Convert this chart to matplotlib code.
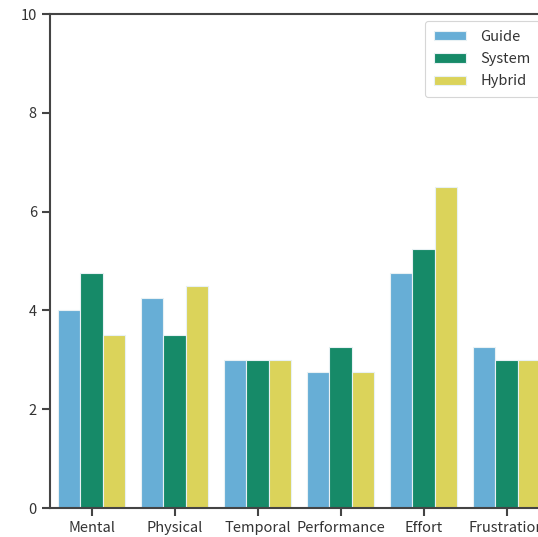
import matplotlib
matplotlib.use("Agg")
import matplotlib.pyplot as plt
import numpy as np

plt.rcParams['font.family'] = ['Noto Sans CJK JP', 'DejaVu Sans']

categories = ["Mental", "Physical", "Temporal", "Performance", "Effort", "Frustration"]
series_names = ["Guide", "System", "Hybrid"]
guide = [4.0, 4.25, 3.0, 2.75, 4.75, 3.25]
system = [4.75, 3.5, 3.0, 3.25, 5.25, 3.0]
hybrid = [3.5, 4.5, 3.0, 2.75, 6.5, 3.0]
colors = ["#67aed6", "#168a68", "#dbd35a"]
yticks = [0, 2, 4, 6, 8, 10]

W, H = 538, 537
fig = plt.figure(figsize=(W / 100, H / 100), dpi=100)
ax = fig.add_axes([50 / W, 29 / H, 498 / W, 494 / H])

x = np.arange(len(categories))
width = 0.8 / 3
for i, (name, vals, c) in enumerate(zip(series_names, [guide, system, hybrid], colors)):
    ax.bar(x + (i - 1) * width, vals, width, color=c, label=name,
           edgecolor="#e8f1f4", linewidth=0.8)

ax.set_xlim(-0.5, len(categories) - 0.5)
ax.set_ylim(0, 10)
ax.set_yticks(yticks)
ax.set_xticks(x)
ax.set_xticklabels(categories)

spine_color = "#444444"
for s in ["left", "top", "bottom"]:
    ax.spines[s].set_color(spine_color)
    ax.spines[s].set_linewidth(1.5)
ax.spines["right"].set_visible(False)
ax.tick_params(axis="both", colors=spine_color, width=1.5, length=6,
               labelsize=10.5, labelcolor="#333333")

leg = ax.legend(loc="upper left", bbox_to_anchor=(425 / W, 1 - 21 / H),
                bbox_transform=fig.transFigure, borderaxespad=0,
                fontsize=10.5, frameon=True, fancybox=True,
                handlelength=2.2, handleheight=0.6, borderpad=0.6,
                labelspacing=0.57, handletextpad=1.0)
leg.get_frame().set_edgecolor("#cccccc")
leg.get_frame().set_linewidth(0.8)
for t in leg.get_texts():
    t.set_color("#333333")

fig.savefig("out.png", dpi=100)
